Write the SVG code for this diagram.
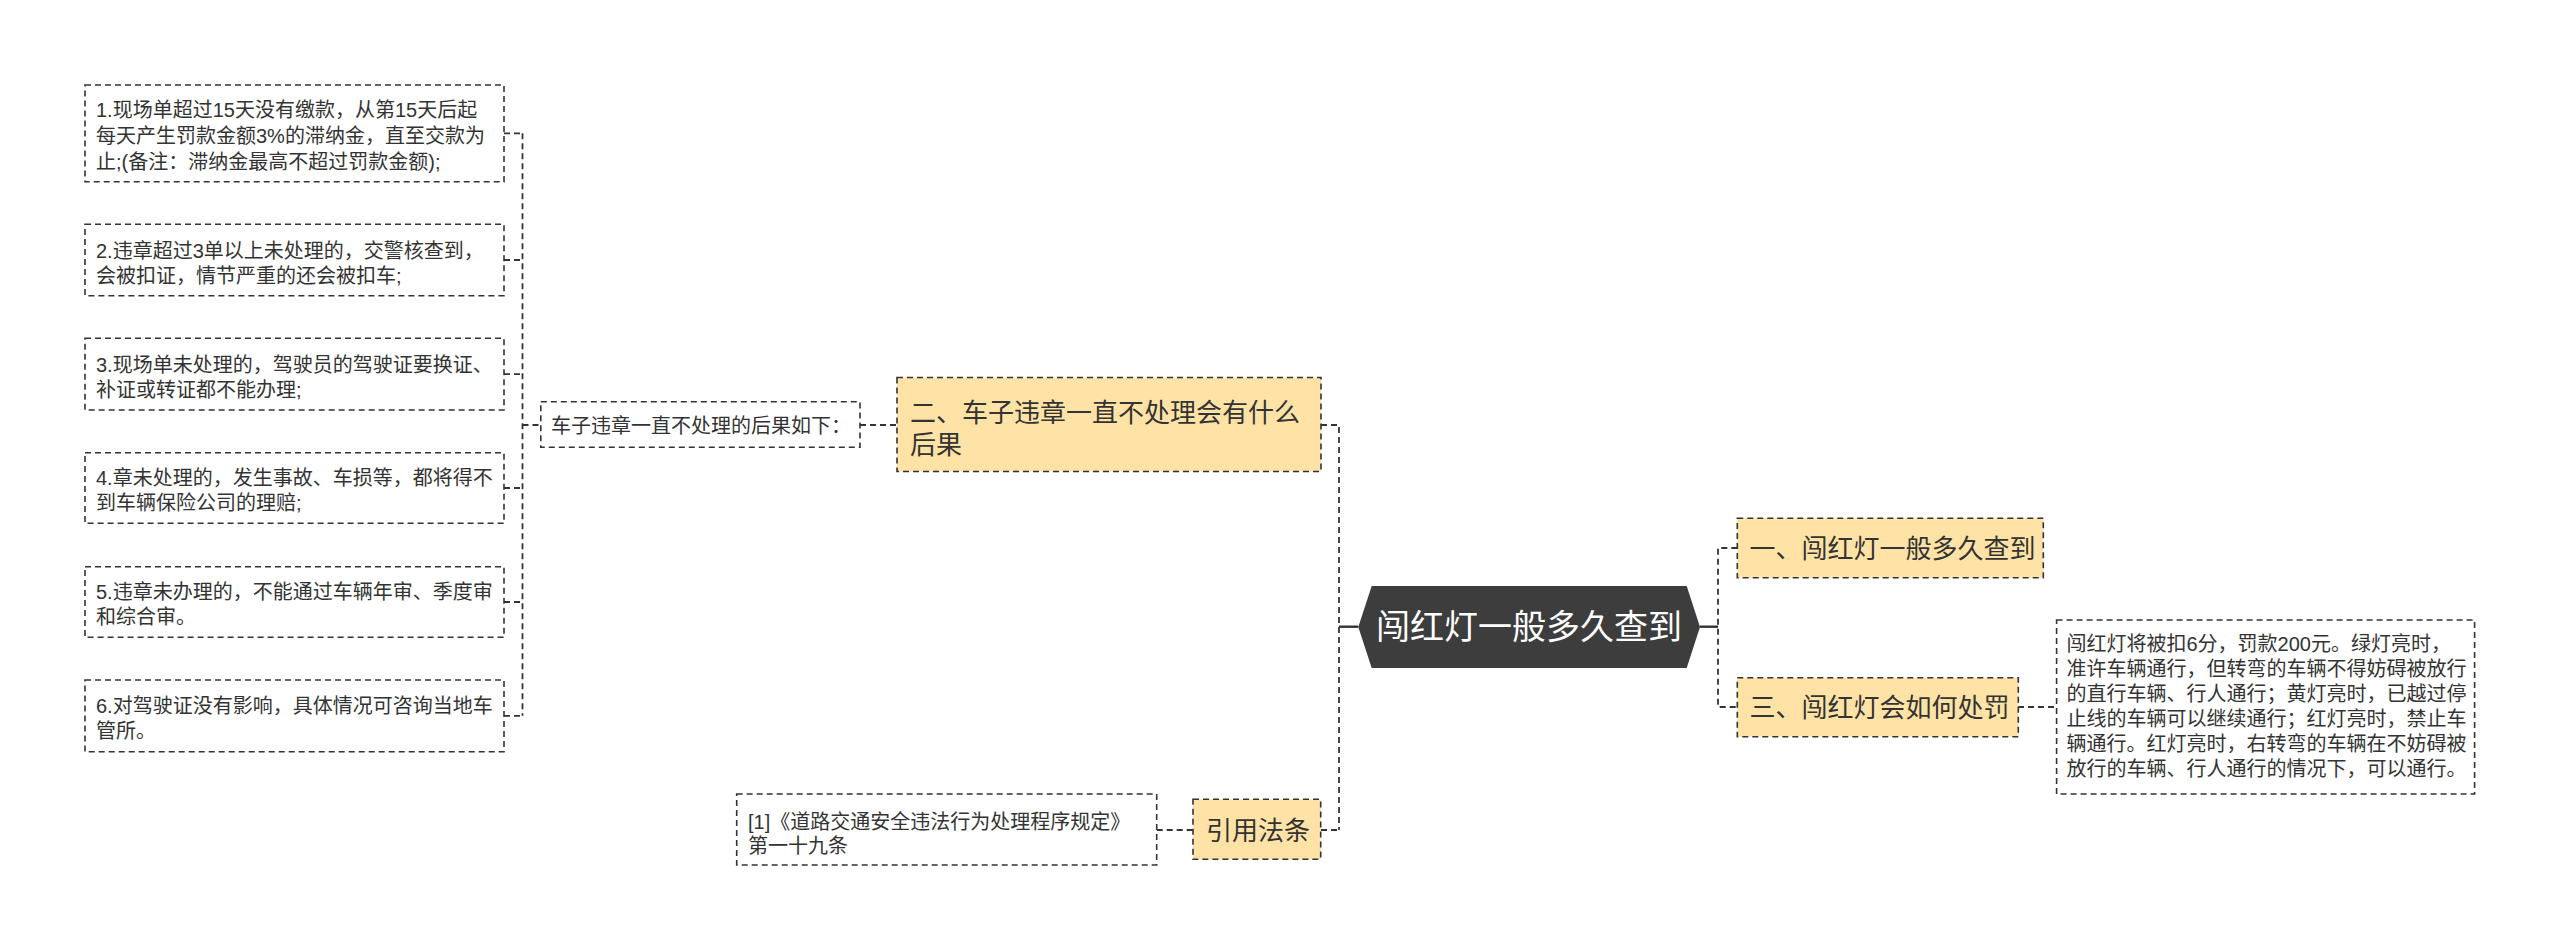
<svg xmlns="http://www.w3.org/2000/svg" width="2560" height="951" viewBox="0 0 2560 951">
<style>
  text { font-family: "Liberation Sans", "Noto Sans CJK SC", sans-serif; fill: #333333; }
  .leaf { fill: #ffffff; stroke: #333333; stroke-width: 1.6; stroke-dasharray: 6 4; }
  .main { fill: #ffe3a6; stroke: #333333; stroke-width: 1.6; stroke-dasharray: 6 4; }
  .t20 { font-size: 20px; }
  .t26 { font-size: 26px; }
  .root-t { font-size: 34px; fill: #ffffff; }
  .conn path { fill: none; stroke: #333333; stroke-width: 1.8; stroke-dasharray: 6 4; }
  .conn path.solid { stroke-dasharray: none; stroke-width: 2.4; }
</style>
<rect width="2560" height="951" fill="#ffffff"/>

<g id="connectors" class="conn">
  <path d="M522.5 133.3 V715.8"/>
  <path d="M504 133.3 H522.5"/>
  <path d="M504 260 H522.5"/>
  <path d="M504 374.2 H522.5"/>
  <path d="M504 488 H522.5"/>
  <path d="M504 602 H522.5"/>
  <path d="M504 715.8 H522.5"/>
  <path d="M522.5 425 H540.8"/>
  <path d="M860 425 H897"/>
  <path d="M1321 425 H1339 V830"/>
  <path d="M1321 830 H1339"/>
  <path d="M1156.7 830 H1193"/>
  <path class="solid" d="M1339 626.7 H1358.3"/>
  <path class="solid" d="M1700 626.7 H1718"/>
  <path d="M1737.3 548 H1718 V707 H1737.3"/>
  <path d="M2018 707 H2056.6"/>
</g>

<g id="root">
  <polygon points="1358.3,627 1371.7,586 1686.7,586 1700,627 1686.7,668 1371.7,668" fill="#3d3d3d"/>
  <text class="root-t" x="1529" y="639" text-anchor="middle">闯红灯一般多久查到</text>
</g>

<g id="n-er">
  <rect class="main" x="897" y="377.5" width="424" height="94"/>
  <text class="t26" x="910" y="421.5">二、车子违章一直不处理会有什么</text>
  <text class="t26" x="910" y="454">后果</text>
</g>

<g id="n-consequence">
  <rect class="leaf" x="540.8" y="401.7" width="319.2" height="45.6"/>
  <text class="t20" x="551" y="432.7">车子违章一直不处理的后果如下：</text>
</g>

<g id="n-c1">
  <rect class="leaf" x="85" y="85" width="419" height="96.7"/>
  <text class="t20" x="96" y="117">1.现场单超过15天没有缴款，从第15天后起</text>
  <text class="t20" x="96" y="143">每天产生罚款金额3%的滞纳金，直至交款为</text>
  <text class="t20" x="96" y="168.7">止;(备注：滞纳金最高不超过罚款金额);</text>
</g>

<g id="n-c2">
  <rect class="leaf" x="85" y="224.3" width="419" height="71.4"/>
  <text class="t20" x="96" y="258">2.违章超过3单以上未处理的，交警核查到，</text>
  <text class="t20" x="96" y="283">会被扣证，情节严重的还会被扣车;</text>
</g>

<g id="n-c3">
  <rect class="leaf" x="85" y="338.3" width="419" height="71.7"/>
  <text class="t20" x="96" y="371.5">3.现场单未处理的，驾驶员的驾驶证要换证、</text>
  <text class="t20" x="96" y="396.5">补证或转证都不能办理;</text>
</g>

<g id="n-c4">
  <rect class="leaf" x="85" y="452.7" width="419" height="70.6"/>
  <text class="t20" x="96" y="485">4.章未处理的，发生事故、车损等，都将得不</text>
  <text class="t20" x="96" y="510">到车辆保险公司的理赔;</text>
</g>

<g id="n-c5">
  <rect class="leaf" x="85" y="566.7" width="419" height="70.6"/>
  <text class="t20" x="96" y="599">5.违章未办理的，不能通过车辆年审、季度审</text>
  <text class="t20" x="96" y="624">和综合审。</text>
</g>

<g id="n-c6">
  <rect class="leaf" x="85" y="680" width="419" height="71.7"/>
  <text class="t20" x="96" y="712.5">6.对驾驶证没有影响，具体情况可咨询当地车</text>
  <text class="t20" x="96" y="738">管所。</text>
</g>

<g id="n-cite">
  <rect class="main" x="1193" y="799.3" width="127.7" height="60"/>
  <text class="t26" x="1206" y="839.5">引用法条</text>
</g>

<g id="n-cite-ref">
  <rect class="leaf" x="736.7" y="794" width="420" height="71"/>
  <text class="t20" x="748" y="828.5">[1]《道路交通安全违法行为处理程序规定》</text>
  <text class="t20" x="748" y="852.5">第一十九条</text>
</g>

<g id="n-yi">
  <rect class="main" x="1737.3" y="518.3" width="306" height="59.4"/>
  <text class="t26" x="1749.5" y="557.5">一、闯红灯一般多久查到</text>
</g>

<g id="n-san">
  <rect class="main" x="1737.3" y="677.7" width="281" height="59"/>
  <text class="t26" x="1749.5" y="716.5">三、闯红灯会如何处罚</text>
</g>

<g id="n-san-detail">
  <rect class="leaf" x="2056.6" y="620" width="418" height="174"/>
  <text class="t20" x="2066.5" y="651">闯红灯将被扣6分，罚款200元。绿灯亮时，</text>
  <text class="t20" x="2066.5" y="676">准许车辆通行，但转弯的车辆不得妨碍被放行</text>
  <text class="t20" x="2066.5" y="701">的直行车辆、行人通行；黄灯亮时，已越过停</text>
  <text class="t20" x="2066.5" y="726.3">止线的车辆可以继续通行；红灯亮时，禁止车</text>
  <text class="t20" x="2066.5" y="751.3">辆通行。红灯亮时，右转弯的车辆在不妨碍被</text>
  <text class="t20" x="2066.5" y="776.3">放行的车辆、行人通行的情况下，可以通行。</text>
</g>
</svg>
